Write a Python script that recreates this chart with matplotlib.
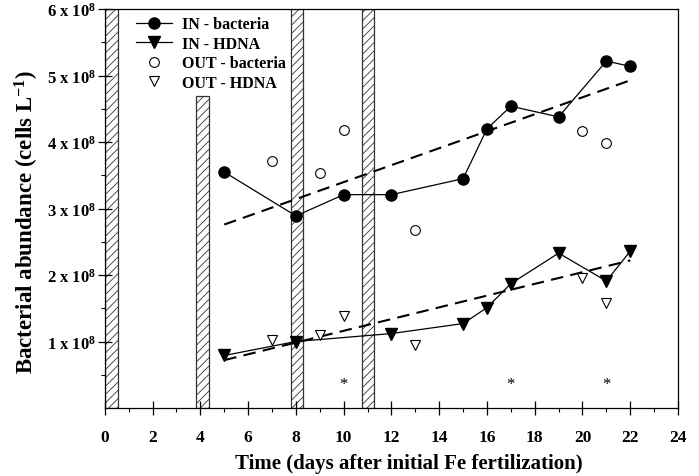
import matplotlib
matplotlib.use("Agg")
import matplotlib.pyplot as plt
import numpy as np

plt.rcParams['font.family'] = ['Liberation Serif', 'DejaVu Serif']
plt.rcParams['font.weight'] = 'bold'
plt.rcParams['mathtext.fontset'] = 'custom'
plt.rcParams['mathtext.rm'] = 'Liberation Serif:bold'
plt.rcParams['mathtext.bf'] = 'Liberation Serif:bold'
plt.rcParams['mathtext.it'] = 'Liberation Serif:bold'
plt.rcParams['hatch.linewidth'] = 0.6

# Data (x1e8 cells/L)
in_bact_days = [5, 8, 10, 12, 15, 16, 17, 19, 21, 22]
in_bact_vals = [3.55, 2.89, 3.21, 3.21, 3.45, 4.20, 4.54, 4.38, 5.22, 5.14]
out_bact_days = [7, 9, 10, 13, 20, 21]
out_bact_vals = [3.72, 3.53, 4.19, 2.68, 4.16, 3.99]
in_hdna_days = [5, 8, 12, 15, 16, 17, 19, 21, 22]
in_hdna_vals = [0.79, 1.00, 1.12, 1.27, 1.51, 1.87, 2.33, 1.91, 2.36]
out_hdna_days = [7, 9, 10, 13, 20, 21]
out_hdna_vals = [1.03, 1.10, 1.38, 0.95, 1.95, 1.58]

trend_days = [5, 22]
bact_trend = [2.76, 4.93]
hdna_trend = [0.72, 2.22]

# Fe fertilization bars
bar_left = [0.0, 3.8, 7.78, 10.75]
bar_right = [0.55, 4.35, 8.28, 11.25]
bar_top = [6.0, 4.7, 6.0, 6.0]

star_days = [10, 17, 21]
star_level = 0.36

xticks = list(range(0, 25, 2))
yticks = [1, 2, 3, 4, 5, 6]
ytick_labels = [f"{v} x 10$^{{8}}$" for v in yticks]

fig = plt.figure(figsize=(6.99, 4.77), dpi=100)
ax = fig.add_axes([0.150, 0.1426, 0.820, 0.836])

widths = [r - l for l, r in zip(bar_left, bar_right)]
ax.bar(bar_left, bar_top, width=widths, align='edge', bottom=0,
       facecolor='white', edgecolor='#333333', hatch='////', linewidth=0.9, zorder=1)

ax.plot(trend_days, bact_trend, color='black', linestyle=(0, (6, 3.5)), linewidth=1.5, zorder=2)
ax.plot(trend_days, hdna_trend, color='black', linestyle=(0, (6, 3.5)), linewidth=1.5, zorder=2)

ax.plot(in_bact_days, in_bact_vals, color='black', linewidth=0.9, marker='o',
        markersize=8, markerfacecolor='black', label='IN - bacteria', zorder=3)
ax.plot(in_hdna_days, in_hdna_vals, color='black', linewidth=0.9, marker='v',
        markersize=8.5, markerfacecolor='black', label='IN - HDNA', zorder=3)
ax.plot(out_bact_days, out_bact_vals, linestyle='none', marker='o', markersize=7,
        markerfacecolor='white', markeredgecolor='black', markeredgewidth=0.8,
        label='OUT - bacteria', zorder=3)
ax.plot(out_hdna_days, out_hdna_vals, linestyle='none', marker='v', markersize=7.5,
        markerfacecolor='white', markeredgecolor='black', markeredgewidth=0.8,
        label='OUT - HDNA', zorder=3)

for d in star_days:
    ax.text(d, star_level, '*', ha='center', va='center', fontsize=12, fontweight='normal')

ax.set_xlim(0, 24)
ax.set_ylim(0, 6)
ax.set_xticks(xticks)
ax.set_xticklabels([str(t) for t in xticks], fontsize=12.5, fontweight='bold')
ax.set_xticks(np.arange(1, 24, 2), minor=True)
ax.set_yticks(yticks)
ax.set_yticklabels(ytick_labels, fontsize=12, fontweight='bold')
ax.set_yticks(np.arange(0.5, 6, 1), minor=True)
ax.tick_params(which='major', direction='inout', length=10, width=0.9)
ax.tick_params(axis='x', which='major', pad=10)
ax.tick_params(axis='y', which='major', pad=1)
ax.tick_params(which='minor', direction='out', length=3, width=0.8)
for s in ax.spines.values():
    s.set_linewidth(0.9)

ax.set_xlabel('Time (days after initial Fe fertilization)', fontsize=15, fontweight='bold')
ax.xaxis.set_label_coords(0.53, -0.112)
ax.set_ylabel('Bacterial abundance (cells L$^{-1}$)', fontsize=16.5, fontweight='bold')
ax.yaxis.set_label_coords(-0.112, 0.47)

leg = ax.legend(loc='upper left', bbox_to_anchor=(0.035, 1.01), frameon=False,
                prop={'family': 'Liberation Serif', 'weight': 'bold', 'size': 11.5},
                handlelength=2.25, handletextpad=0.6, labelspacing=0.22, borderaxespad=0.3)

fig.savefig('out.png', dpi=100)
